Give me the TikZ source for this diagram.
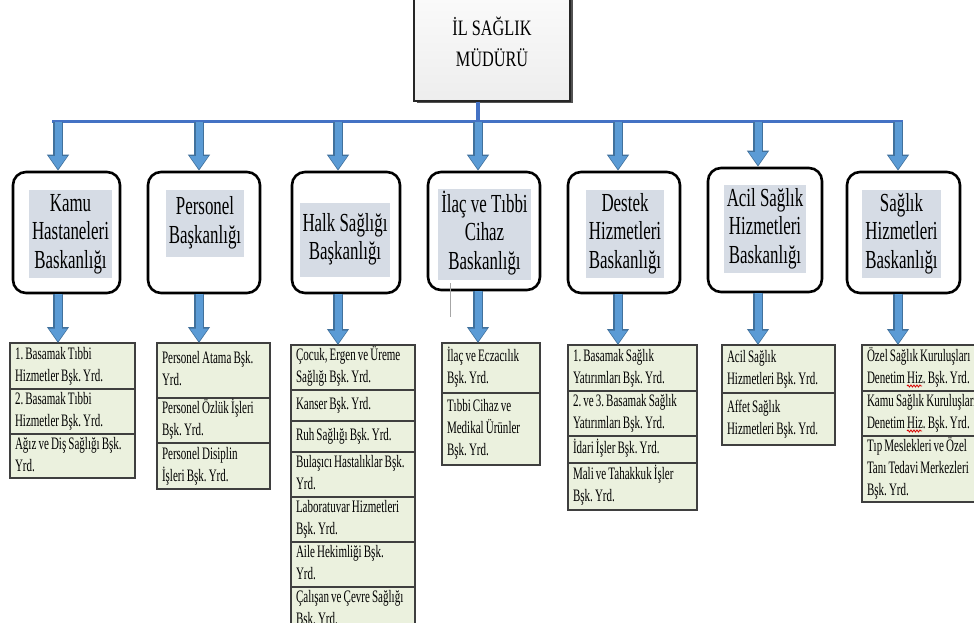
\documentclass[tikz,border=0pt]{standalone}
\usepackage{fontspec}
\usepackage{graphicx}
\setmainfont{Liberation Serif}
\frenchspacing
\newcommand\toptxt[1]{{\fontsize{22}{31}\selectfont\frenchspacing\scalebox{0.74}[1]{\begin{tabular}{@{}c@{}}#1\end{tabular}}}}
\newcommand\midtxt[1]{{\fontsize{26}{28.5}\selectfont\frenchspacing\scalebox{0.65}[1]{\begin{tabular}{@{}c@{}}#1\end{tabular}}}}
\newcommand\lowtxt[1]{\noindent{\fontsize{17.5}{22}\selectfont\frenchspacing\scalebox{0.63}[1]{\begin{tabular}{@{}l@{}}#1\end{tabular}}}}
\usetikzlibrary{arrows.meta,shadows,decorations.pathmorphing,calc}
\definecolor{busblue}{HTML}{4472C4}
\definecolor{arrowblue}{HTML}{5B9BD5}
\definecolor{arrowdark}{HTML}{41719C}
\definecolor{innergray}{HTML}{D6DCE5}
\definecolor{rowgreen}{HTML}{EBF1DE}
\definecolor{rowline}{HTML}{3F3F3F}
\begin{document}
\begin{tikzpicture}[x=1pt,y=-1pt,
 topbox/.style={rectangle, draw=black!85, line width=1.2pt, top color=gray!3, bottom color=gray!14,
   minimum width=156pt, minimum height=112pt, inner sep=0pt,
   drop shadow={shadow xshift=2.5pt, shadow yshift=-2.5pt, fill=black!75, opacity=0.9}},
 midbox/.style={rectangle, rounded corners=13pt, draw=black, line width=2.6pt, fill=white},
 midtext/.style={fill=innergray, inner xsep=3pt, inner ysep=1.5pt},
 subrow/.style={rectangle, draw=rowline, line width=1.3pt, fill=rowgreen, anchor=north west, outer sep=0pt,
   inner xsep=5pt, inner ysep=0pt},
 bus/.style={draw=busblue, line width=3pt},
 arrowback/.style={draw=arrowdark, line width=9.5pt, -{Triangle[width=21pt,length=16pt]}},
 arrowfront/.style={draw=arrowblue, line width=7pt, shorten >=1.5pt, -{Triangle[width=17.5pt,length=13pt]}},
 squiggle/.style={draw=red!85!black, line width=0.8pt, decorate, decoration={snake, amplitude=1pt, segment length=3pt}}
]
\useasboundingbox (0,0) rectangle (974,623);
\clip (0,0) rectangle (974,623);
\fill[white] (0,0) rectangle (974,623);

% top box
\node[topbox] (dir) at (492,45) {\toptxt{İL SAĞLIK\\MÜDÜRÜ}};

% bus
\coordinate (busL) at (52,122);
\coordinate (busR) at (903,122);
\coordinate (x1) at (58,122);
\coordinate (x2) at (199,122);
\coordinate (x3) at (338,122);
\coordinate (x4) at (478,122);
\coordinate (x5) at (618,122);
\coordinate (x6) at (758,122);
\coordinate (x7) at (898,122);
\draw[bus] (busL) -- (busR);
\draw[bus, line width=4.5pt] (x4 |- dir.south) -- (x4);

% middle boxes
\node[midbox, minimum width=107pt, minimum height=121pt] (m1) at (66.5,232.5) {};
\node[midbox, minimum width=112pt, minimum height=121pt] (m2) at (204,232.5) {};
\node[midbox, minimum width=108pt, minimum height=121pt] (m3) at (346,232.5) {};
\node[midbox, minimum width=112pt, minimum height=118pt] (m4) at (484,231) {};
\node[midbox, minimum width=112pt, minimum height=121pt] (m5) at (624,232.5) {};
\node[midbox, minimum width=114pt, minimum height=124pt] (m6) at (765,230) {};
\node[midbox, minimum width=113pt, minimum height=121pt] (m7) at (903.5,232.5) {};

\node[midtext] (t1) at (70.5,234) {\midtxt{Kamu\\Hastaneleri\\Baskanlığı}};
\node[midtext, minimum height=67pt] (t2) at (205,223.5) {\midtxt{Personel\\Başkanlığı}};
\node[midtext, minimum height=74pt] (t3) at (345,240) {\midtxt{Halk Sağlığı\\Başkanlığı}};
\node[midtext] (t4) at (484.5,234.5) {\midtxt{İlaç ve Tıbbi\\Cihaz\\Baskanlığı}};
\node[midtext] (t5) at (625,234) {\midtxt{Destek\\Hizmetleri\\Baskanlığı}};
\node[midtext] (t6) at (765,229) {\midtxt{Acil Sağlık\\Hizmetleri\\Baskanlığı}};
\node[midtext] (t7) at (901.5,234) {\midtxt{Sağlık\\Hizmetleri\\Baskanlığı}};

% lower columns
\node[subrow, text width=115pt, minimum height=46pt] (a1) at (10,343) {\lowtxt{1. Basamak Tıbbi\\Hizmetler Bşk. Yrd.}};
\node[subrow, text width=115pt, minimum height=45pt] (a2) at (a1.south west) {\lowtxt{2. Basamak Tıbbi\\Hizmetler Bşk. Yrd.}};
\node[subrow, text width=115pt, minimum height=44pt] (a3) at (a2.south west) {\lowtxt{Ağız ve Diş Sağlığı Bşk.\\Yrd.}};

\node[subrow, text width=103pt, minimum height=55pt] (b1) at (157,343) {\lowtxt{Personel Atama Bşk.\\Yrd.}};
\node[subrow, text width=103pt, minimum height=45pt] (b2) at (b1.south west) {\lowtxt{Personel Özlük İşleri\\Bşk. Yrd.}};
\node[subrow, text width=103pt, minimum height=46pt] (b3) at (b2.south west) {\lowtxt{Personel Disiplin\\İşleri Bşk. Yrd.}};

\node[subrow, text width=114pt, minimum height=45pt] (c1) at (291,345) {\lowtxt{Çocuk, Ergen ve Üreme\\Sağlığı Bşk. Yrd.}};
\node[subrow, text width=114pt, minimum height=31pt] (c2) at (c1.south west) {\lowtxt{Kanser Bşk. Yrd.}};
\node[subrow, text width=114pt, minimum height=31pt] (c3) at (c2.south west) {\lowtxt{Ruh Sağlığı Bşk. Yrd.}};
\node[subrow, text width=114pt, minimum height=45pt] (c4) at (c3.south west) {\lowtxt{Bulaşıcı Hastalıklar Bşk.\\Yrd.}};
\node[subrow, text width=114pt, minimum height=45pt] (c5) at (c4.south west) {\lowtxt{Laboratuvar Hizmetleri\\Bşk. Yrd.}};
\node[subrow, text width=114pt, minimum height=45pt] (c6) at (c5.south west) {\lowtxt{Aile Hekimliği Bşk.\\Yrd.}};
\node[subrow, text width=114pt, minimum height=45pt] (c7) at (c6.south west) {\lowtxt{Çalışan ve Çevre Sağlığı\\Bşk. Yrd.}};

\node[subrow, text width=88pt, minimum height=50pt] (d1) at (442,343) {\lowtxt{İlaç ve Eczacılık\\Bşk. Yrd.}};
\node[subrow, text width=88pt, minimum height=72pt] (d2) at (d1.south west) {\lowtxt{Tıbbi Cihaz ve\\Medikal Ürünler\\Bşk. Yrd.}};

\node[subrow, text width=119pt, minimum height=46pt] (e1) at (568,345) {\lowtxt{1. Basamak Sağlık\\Yatırımları Bşk. Yrd.}};
\node[subrow, text width=119pt, minimum height=45pt] (e2) at (e1.south west) {\lowtxt{2. ve 3. Basamak Sağlık\\Yatırımları Bşk. Yrd.}};
\node[subrow, text width=119pt, minimum height=27pt] (e3) at (e2.south west) {\lowtxt{İdari İşler Bşk. Yrd.}};
\node[subrow, text width=119pt, minimum height=47pt] (e4) at (e3.south west) {\lowtxt{Mali ve Tahakkuk İşler\\Bşk. Yrd.}};

\node[subrow, text width=103pt, minimum height=48pt] (f1) at (722,345) {\lowtxt{Acil Sağlık\\Hizmetleri Bşk. Yrd.}};
\node[subrow, text width=103pt, minimum height=52pt] (f2) at (f1.south west) {\lowtxt{Affet Sağlık\\Hizmetleri Bşk. Yrd.}};

\node[subrow, text width=118pt, minimum height=46pt] (g1) at (862,345) {\lowtxt{Özel Sağlık Kuruluşları\\Denetim Hiz. Bşk. Yrd.}};
\node[subrow, text width=118pt, minimum height=45pt] (g2) at (g1.south west) {\lowtxt{Kamu Sağlık Kuruluşları\\Denetim Hiz. Bşk. Yrd.}};
\node[subrow, text width=118pt, minimum height=66pt] (g3) at (g2.south west) {\lowtxt{Tıp Meslekleri ve Özel\\Tanı Tedavi Merkezleri\\Bşk. Yrd.}};

% spell-check marks
\draw[squiggle] ($(g1.south west)+(45,-5)$) -- ($(g1.south west)+(60,-5)$);
\draw[squiggle] ($(g2.south west)+(45,-5)$) -- ($(g2.south west)+(60,-5)$);

% arrows bus -> middle boxes
\foreach \i in {1,...,7} {
  \draw[arrowback] (x\i) -- (x\i |- m\i.north);
  \draw[arrowfront] (x\i) -- (x\i |- m\i.north);
}
% arrows middle boxes -> lower columns
\foreach \i/\r in {1/a1,2/b1,3/c1,4/d1,5/e1,6/f1,7/g1} {
  \draw[arrowback] (x\i |- m\i.south) -- (x\i |- \r.north);
  \draw[arrowfront] (x\i |- m\i.south) -- (x\i |- \r.north);
}

% stray cursor mark
\draw[gray!70, line width=1pt] (450,283) -- (450,317);
\end{tikzpicture}
\end{document}
